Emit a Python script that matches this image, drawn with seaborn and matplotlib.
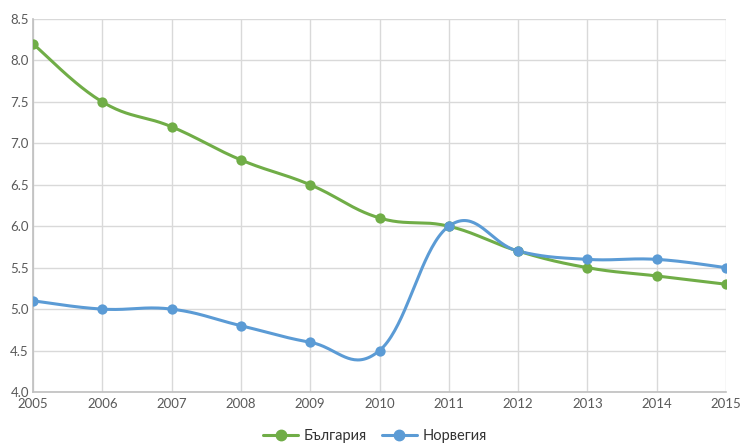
import numpy as np
import pandas as pd
import matplotlib
matplotlib.use("Agg")
import matplotlib.pyplot as plt
import seaborn as sns
from matplotlib.lines import Line2D

years = [2005, 2006, 2007, 2008, 2009, 2010, 2011, 2012, 2013, 2014, 2015]
bulgaria = [8.2, 7.5, 7.2, 6.8, 6.5, 6.1, 6.0, 5.7, 5.5, 5.4, 5.3]
norway = [5.1, 5.0, 5.0, 4.8, 4.6, 4.5, 6.0, 5.7, 5.6, 5.6, 5.5]
series_names = ["България", "Норвегия"]
colors = ["#70AD47", "#5B9BD5"]


def smooth(xs, ys, steps=40, k=0.2):
    """Cardinal-spline style cubic Bezier through every point."""
    xs = np.asarray(xs, float)
    ys = np.asarray(ys, float)
    n = len(xs)
    out_x, out_y = [], []
    for i in range(n - 1):
        p0 = np.array([xs[max(i - 1, 0)], ys[max(i - 1, 0)]])
        p1 = np.array([xs[i], ys[i]])
        p2 = np.array([xs[i + 1], ys[i + 1]])
        p3 = np.array([xs[min(i + 2, n - 1)], ys[min(i + 2, n - 1)]])
        c1 = p1 + (p2 - p0) * k
        c2 = p2 - (p3 - p1) * k
        t = np.linspace(0, 1, steps, endpoint=(i == n - 2))[:, None]
        pts = ((1 - t) ** 3) * p1 + 3 * ((1 - t) ** 2) * t * c1 + 3 * (1 - t) * t ** 2 * c2 + t ** 3 * p2
        out_x.extend(pts[:, 0])
        out_y.extend(pts[:, 1])
    return np.array(out_x), np.array(out_y)


sns.set_theme(style="white")
plt.rcParams["font.family"] = ["Lato", "DejaVu Sans"]

fig = plt.figure(figsize=(7.41, 4.44), dpi=100)
ax = fig.add_axes([33 / 741, 52 / 444, (726 - 33) / 741, (392 - 19) / 444])

for name, vals, col in zip(series_names, [bulgaria, norway], colors):
    sx, sy = smooth(years, vals)
    curve = pd.DataFrame({"x": sx, "y": sy})
    sns.lineplot(data=curve, x="x", y="y", ax=ax, color=col, linewidth=2.2,
                 sort=False, estimator=None, zorder=3)
    pts = pd.DataFrame({"x": years, "y": vals})
    sns.scatterplot(data=pts, x="x", y="y", ax=ax, color=col, s=55,
                    edgecolor=col, linewidth=0, zorder=4)

ax.set_xlim(2005, 2015)
ax.set_ylim(4.0, 8.5)
ax.set_xticks(years)
ax.set_xticklabels([str(y) for y in years])
yt = np.arange(4.0, 8.51, 0.5)
ax.set_yticks(yt)
ax.set_yticklabels([f"{v:.1f}" for v in yt])
ax.set_xlabel("")
ax.set_ylabel("")

ax.grid(True, color="#d9d9d9", linewidth=1)
ax.set_axisbelow(True)
for side in ["top", "right"]:
    ax.spines[side].set_visible(False)
for side in ["left", "bottom"]:
    ax.spines[side].set_color("#bfbfbf")
    ax.spines[side].set_linewidth(1.2)
ax.tick_params(axis="both", length=0, labelsize=9.5, labelcolor="#595959")
ax.tick_params(axis="y", pad=3)
ax.tick_params(axis="x", pad=4)

handles = [Line2D([0], [0], color=c, linewidth=2.2, marker="o", markersize=7.5)
           for c in colors]
fig.legend(handles, series_names, loc="center", bbox_to_anchor=(375 / 741, 1 - 436 / 444),
           ncol=2, frameon=False, fontsize=10.5, handlelength=2.4, columnspacing=1.0,
           handletextpad=0.4, labelcolor="#333333")

fig.savefig("out.png", dpi=100)
